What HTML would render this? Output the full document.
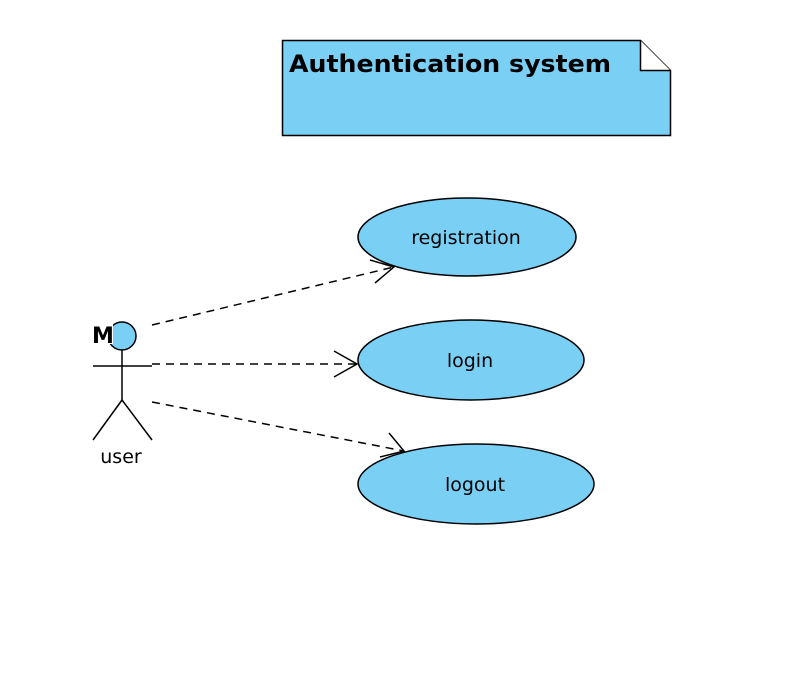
<!DOCTYPE html>
<html><head><style>body{margin:0;background:#fff}</style></head><body>
<svg width="792" height="684" xmlns="http://www.w3.org/2000/svg" font-family="DejaVu Sans, sans-serif">
<path d="M282.5,40.5 H640.5 L670.5,70.5 V135.5 H282.5 Z" fill="#7acff5" stroke="#000" stroke-width="1.5"/>
<path d="M640.5,40.5 V70.5 H670.5" fill="#fff" stroke="#000" stroke-width="1.5"/>
<text x="289" y="72" font-size="24" font-weight="bold" textLength="322" lengthAdjust="spacingAndGlyphs">Authentication system</text>
<ellipse cx="467" cy="237" rx="109" ry="39" fill="#7acff5" stroke="#000" stroke-width="1.5"/>
<text x="466" y="244" font-size="19" text-anchor="middle">registration</text>
<ellipse cx="471" cy="360" rx="113" ry="40" fill="#7acff5" stroke="#000" stroke-width="1.5"/>
<text x="470" y="367" font-size="19" text-anchor="middle">login</text>
<ellipse cx="476" cy="484" rx="118" ry="40" fill="#7acff5" stroke="#000" stroke-width="1.5"/>
<text x="475" y="491" font-size="19" text-anchor="middle">logout</text>
<g stroke="#000" stroke-width="1.5" fill="none">
<circle cx="122" cy="336" r="14" fill="#7acff5"/>
<line x1="122" y1="350" x2="122" y2="400"/>
<line x1="93" y1="366" x2="152" y2="366"/>
<line x1="122" y1="400" x2="93" y2="440"/>
<line x1="122" y1="400" x2="152" y2="440"/>
<g stroke-dasharray="8,6">
<line x1="152" y1="325" x2="394" y2="267"/>
<line x1="152" y1="364" x2="356" y2="364"/>
<line x1="152" y1="402" x2="404" y2="451"/>
</g>
<path d="M370,260 L394,267 L375,283"/>
<path d="M334,351 L357,364 L334,377"/>
<path d="M389,433 L404,451 L380,457"/>
</g>
<rect x="93" y="322" width="20" height="22" fill="#fff"/>
<text x="92" y="343" font-size="22" font-weight="bold">M</text>
<text x="121" y="463" font-size="19" text-anchor="middle">user</text>
</svg>
</body></html>
